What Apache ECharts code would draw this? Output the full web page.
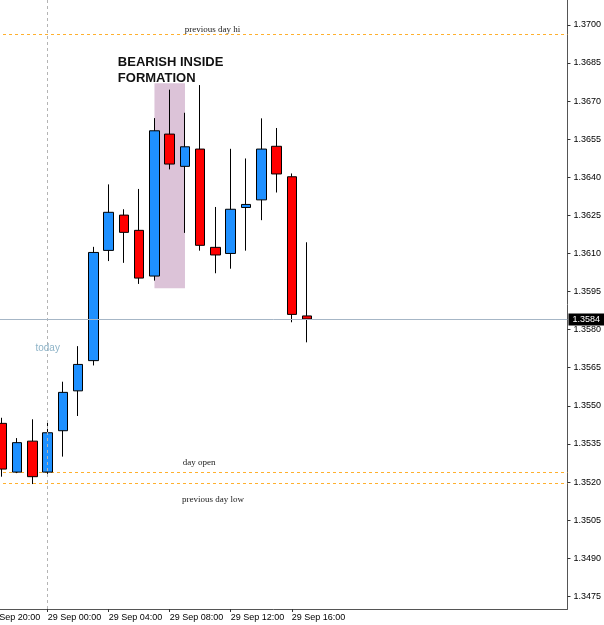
<!DOCTYPE html>
<html>
<head>
<meta charset="utf-8">
<script src="https://cdn.jsdelivr.net/npm/echarts@6/dist/echarts.min.js"></script>
<style>
    html, body { margin: 0; padding: 0; background: #fff; overflow: hidden; }
    /* chart is a bit wider and pulled left so the first time label is cut off like in the original */
    #chart { width: 625px; height: 625px; margin-left: -21px; }
</style>
</head>
<body>
<div id="chart"></div>
<script>
// hourly candles, hour counted from 29 Sep 00:00
const hours = [-3, -2, -1, 0, 1, 2, 3, 4, 5, 6, 7, 8, 9, 10, 11, 12, 13, 14, 15, 16, 17]
const openPrice = [1.35431, 1.35239, 1.35361, 1.35239, 1.35402, 1.35559, 1.35678, 1.36112, 1.36251, 1.36191,
    1.36011, 1.36570, 1.36443, 1.36511, 1.36124, 1.36100, 1.36281, 1.36311, 1.36522, 1.36402, 1.35854]
const closePrice = [1.35251, 1.35355, 1.35221, 1.35394, 1.35553, 1.35663, 1.36104, 1.36262, 1.36183, 1.36003,
    1.36583, 1.36452, 1.36520, 1.36132, 1.36094, 1.36274, 1.36293, 1.36511, 1.36413, 1.35860, 1.35842]
const lowPrice = [1.35221, 1.35235, 1.35192, 1.35232, 1.35300, 1.35460, 1.35659, 1.36070, 1.36063, 1.35980,
    1.35993, 1.36431, 1.36181, 1.36111, 1.36022, 1.36040, 1.36111, 1.36231, 1.36340, 1.35829, 1.35750]
const highPrice = [1.35453, 1.35373, 1.35447, 1.35433, 1.35595, 1.35735, 1.36126, 1.36372, 1.36274, 1.36354,
    1.36633, 1.36745, 1.36654, 1.36763, 1.36283, 1.36512, 1.36474, 1.36632, 1.36594, 1.36415, 1.36144]

// axis ticks
const xTickHours = [-4, 0, 4, 8, 12, 16]
const xTickLabels = ['28 Sep 20:00', '29 Sep 00:00', '29 Sep 04:00', '29 Sep 08:00', '29 Sep 12:00', '29 Sep 16:00']
const yTicks = [1.3475, 1.3490, 1.3505, 1.3520, 1.3535, 1.3550, 1.3565, 1.3580, 1.3595,
    1.3610, 1.3625, 1.3640, 1.3655, 1.3670, 1.3685, 1.3700]

// levels drawn across the chart
const levelNames = ['previous day hi', 'day open', 'previous day low']
const levelPrices = [1.36964, 1.35239, 1.35196]
const lastPrice = 1.3584
// shaded inside-bar zone: [hour from, hour to], [price low, price high]
const zoneHours = [7, 9]
const zonePrice = [1.35963, 1.36770]

const chart = echarts.init(document.getElementById('chart'))

const candles = hours.map((h, i) => [h, openPrice[i], closePrice[i], lowPrice[i], highPrice[i]])

const noteFont = { fontFamily: 'Liberation Serif', fontSize: 9, color: '#222' }

// orange dashed levels, drawn as a custom series across the whole grid
const levelSeries = {
    name: 'levels',
    type: 'custom',
    silent: true,
    z: 1,
    data: levelPrices.map(p => [p]),
    encode: { y: 0 },
    renderItem: (params, api) => {
        const y = Math.round(api.coord([0, api.value(0)])[1]) + 0.5
        const box = params.coordSys
        return {
            type: 'line',
            shape: { x1: box.x, y1: y, x2: box.x + box.width, y2: y },
            style: { stroke: '#ffb02e', lineWidth: 1, lineDash: [3, 3] }
        }
    }
}

const option = {
    animation: false,
    backgroundColor: '#ffffff',
    grid: { left: 0, right: 36, top: 0, bottom: 16 },
    xAxis: {
        type: 'value',
        min: -4.5,
        max: 34.07,
        splitLine: { show: false },
        axisLine: { show: true, onZero: false, lineStyle: { color: '#555', width: 1 } },
        axisTick: { show: true, length: 3, customValues: xTickHours, lineStyle: { color: '#333' } },
        axisLabel: {
            customValues: xTickHours,
            formatter: v => xTickLabels[xTickHours.indexOf(v)] || '',
            align: 'left',
            margin: 4,
            fontFamily: 'Liberation Sans',
            fontSize: 9,
            color: '#000'
        }
    },
    yAxis: {
        type: 'value',
        position: 'right',
        min: 1.3470,
        max: 1.37098,
        splitLine: { show: false },
        axisLine: { show: true, onZero: false, lineStyle: { color: '#555', width: 1 } },
        axisTick: { show: true, length: 3, customValues: yTicks, lineStyle: { color: '#333' } },
        axisLabel: {
            customValues: yTicks,
            formatter: v => v.toFixed(4),
            margin: 6,
            fontFamily: 'Liberation Sans',
            fontSize: 9,
            color: '#000'
        }
    },
    series: [
        {
            // inside-bar zone and today separator
            name: 'zone',
            type: 'line',
            data: [],
            markArea: {
                silent: true,
                itemStyle: { color: '#dcc3d8', opacity: 1 },
                data: [[{ coord: [zoneHours[0], zonePrice[1]] }, { coord: [zoneHours[1], zonePrice[0]] }]]
            },
            markLine: {
                silent: true,
                symbol: 'none',
                precision: 5,
                label: { show: false },
                lineStyle: { color: '#b4b4b4', width: 1, type: [3, 3], opacity: 1 },
                data: [{ xAxis: 0 }]
            }
        },
        levelSeries,
        {
            name: 'EURUSD',
            type: 'candlestick',
            data: candles,
            encode: { x: 0, y: [1, 2, 3, 4] },
            barWidth: 10,
            itemStyle: {
                color: '#1e90ff',
                color0: '#ff0000',
                borderColor: '#000000',
                borderColor0: '#000000',
                borderWidth: 1
            },
            markLine: {
                silent: true,
                symbol: 'none',
                precision: 5,
                lineStyle: { color: '#a6b6c6', width: 1, type: 'solid', opacity: 1 },
                label: {
                    show: true,
                    position: 'end',
                    distance: 1,
                    formatter: lastPrice.toFixed(4),
                    backgroundColor: '#000',
                    color: '#fff',
                    padding: [2, 4, 1, 4],
                    fontFamily: 'Liberation Sans',
                    fontSize: 9
                },
                data: [{ yAxis: lastPrice }]
            },
            markPoint: {
                silent: true,
                symbol: 'circle',
                symbolSize: 0,
                label: { show: true, position: 'inside', formatter: '{b}' },
                data: [
                    { name: levelNames[0], coord: [8.99, 1.36980], label: { align: 'left', verticalAlign: 'middle', ...noteFont } },
                    { name: levelNames[1], coord: [8.86, 1.35275], label: { align: 'left', verticalAlign: 'middle', ...noteFont } },
                    { name: levelNames[2], coord: [8.8, 1.35129], label: { align: 'left', verticalAlign: 'middle', ...noteFont } },
                    {
                        name: 'today', coord: [0, 1.35728],
                        label: { align: 'center', verticalAlign: 'middle', fontFamily: 'Liberation Sans', fontSize: 10, color: '#8fb4c8' }
                    },
                    {
                        name: 'BEARISH INSIDE\nFORMATION', coord: [4.6, 1.36822],
                        label: {
                            align: 'left', verticalAlign: 'middle', fontFamily: 'Liberation Sans',
                            fontWeight: 'bold', fontSize: 13, lineHeight: 16, color: '#111'
                        }
                    }
                ]
            }
        }
    ]
}

chart.setOption(option)
</script>
</body>
</html>
